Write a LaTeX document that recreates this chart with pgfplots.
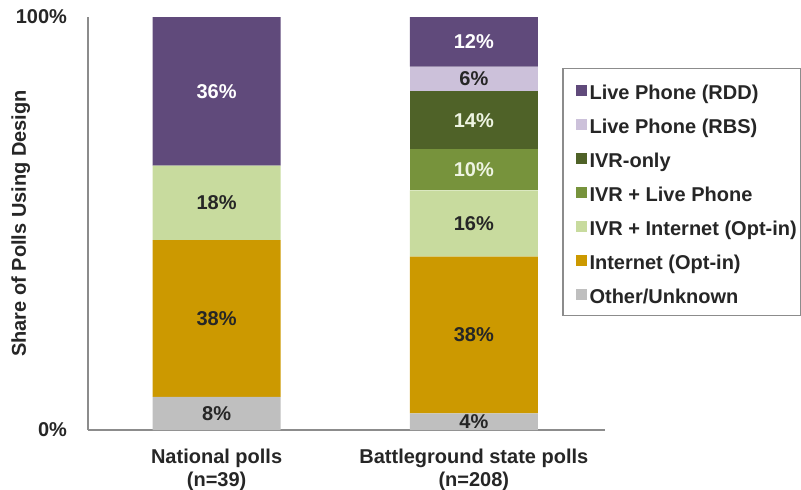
\documentclass[border=0pt]{standalone}
\usepackage{pgfplots}
\usepackage{pgfplotstable}
\pgfplotsset{compat=1.18}
\usepackage{fontspec}
\setmainfont{Liberation Sans}

\definecolor{rdd}{HTML}{604A7B}
\definecolor{rbs}{HTML}{CCC1DA}
\definecolor{ivronly}{HTML}{4F6228}
\definecolor{ivrlive}{HTML}{77933C}
\definecolor{ivrnet}{HTML}{C8DB9E}
\definecolor{internet}{HTML}{CC9900}
\definecolor{other}{HTML}{BFBFBF}
\definecolor{axisgray}{HTML}{8C8C8C}
\definecolor{txt}{HTML}{262626}
\definecolor{paletxt}{HTML}{EEF4E2}

% share of polls (%) by design; x = 0 national, 1 battleground
\pgfplotstableread{
x other internet ivrnet ivrlive ivronly rbs rdd
0 8     38       18     0       0       0   36
1 4     38       16     10      14      6   12
}\designs

\pgfplotsset{
  frame/.style={
    at={(0pt,0pt)}, anchor=south west,
    scale only axis, width=258.5pt, height=206.5pt,
    xmin=-0.5, xmax=1.51, ymin=0, ymax=100},
  % value label in the middle of its segment, hidden for empty segments
  seglabel/.style={draw=none, mark=none, point meta=explicit,
    nodes near coords={\pgfmathfloatifflags{\pgfplotspointmeta}{0}{}{\pgfmathprintnumber{\pgfplotspointmeta}\%}},
    every node near coord/.append style={anchor=center, text=#1,
      font=\fontsize{10}{12}\selectfont\bfseries}},
}

\begin{document}
\begin{tikzpicture}
\path[use as bounding box] (-44pt,-29.5pt) rectangle (356.5pt,215pt);
\begin{axis}[
  frame,
  ybar stacked, bar width=64pt,
  axis x line*=bottom, axis y line*=left,
  axis line style={draw=axisgray, line width=0.7pt},
  major tick length=0pt,
  xtick={0,1},
  xticklabels={{National polls\\(n=39)},{Battleground state polls\\(n=208)}},
  xticklabel style={align=center, text=txt, yshift=-6pt,
    font=\fontsize{10}{11.5}\selectfont\bfseries},
  ytick={0,100},
  yticklabels={0\%,100\%},
  yticklabel style={text=txt, xshift=-7pt, font=\fontsize{10}{12}\selectfont\bfseries},
  ylabel={Share of Polls Using Design},
  ylabel style={at={(axis description cs:-0.13,0.5)}, anchor=center, rotate=0,
    text=txt, font=\fontsize{10}{12}\selectfont\bfseries},
  every axis plot/.append style={draw=none},
  reverse legend,
  legend image code/.code={\path (0pt,0pt) (11.5pt,0pt); \fill[#1] (5.25pt,-2.75pt) rectangle (10.75pt,2.75pt);},
  legend cell align=left,
  legend style={at={(axis description cs:0.9175,0.877)}, anchor=north west,
    draw=axisgray, line width=0.7pt, fill=white,
    font=\fontsize{10}{12}\selectfont\bfseries, text=txt,
    inner xsep=1pt, inner ysep=2.25pt,
    nodes={text height=9.2pt, text depth=0pt, inner ysep=3.9pt, inner xsep=0.75pt},
    row sep=0pt},
]
% bottom to top: Other, Internet, IVR + Internet, IVR + Live Phone, IVR-only, RBS, RDD
\addplot[fill=other] table[x=x, y=other] {\designs};
\addlegendentry{Other/Unknown}
\addplot[fill=internet] table[x=x, y=internet] {\designs};
\addlegendentry{Internet (Opt-in)}
\addplot[fill=ivrnet] table[x=x, y=ivrnet] {\designs};
\addlegendentry{IVR + Internet (Opt-in)}
\addplot[fill=ivrlive] table[x=x, y=ivrlive] {\designs};
\addlegendentry{IVR + Live Phone}
\addplot[fill=ivronly] table[x=x, y=ivronly] {\designs};
\addlegendentry{IVR-only}
\addplot[fill=rbs] table[x=x, y=rbs] {\designs};
\addlegendentry{Live Phone (RBS)}
\addplot[fill=rdd] table[x=x, y=rdd] {\designs};
\addlegendentry{Live Phone (RDD)}
\end{axis}
% value labels, each at the middle of its segment
\begin{axis}[frame, hide axis, /pgf/number format/assume math mode=true]
\addplot[seglabel=txt] table[x=x, y expr=\thisrow{other}/2, meta=other] {\designs};
\addplot[seglabel=txt] table[x=x,
  y expr=\thisrow{other}+\thisrow{internet}/2, meta=internet] {\designs};
\addplot[seglabel=txt] table[x=x,
  y expr=\thisrow{other}+\thisrow{internet}+\thisrow{ivrnet}/2, meta=ivrnet] {\designs};
\addplot[seglabel=paletxt] table[x=x,
  y expr=\thisrow{other}+\thisrow{internet}+\thisrow{ivrnet}+\thisrow{ivrlive}/2,
  meta=ivrlive] {\designs};
\addplot[seglabel=paletxt] table[x=x,
  y expr=\thisrow{other}+\thisrow{internet}+\thisrow{ivrnet}+\thisrow{ivrlive}+\thisrow{ivronly}/2,
  meta=ivronly] {\designs};
\addplot[seglabel=txt] table[x=x,
  y expr=100-\thisrow{rdd}-\thisrow{rbs}/2, meta=rbs] {\designs};
\addplot[seglabel=white] table[x=x, y expr=100-\thisrow{rdd}/2, meta=rdd] {\designs};
\end{axis}
\end{tikzpicture}
\end{document}
